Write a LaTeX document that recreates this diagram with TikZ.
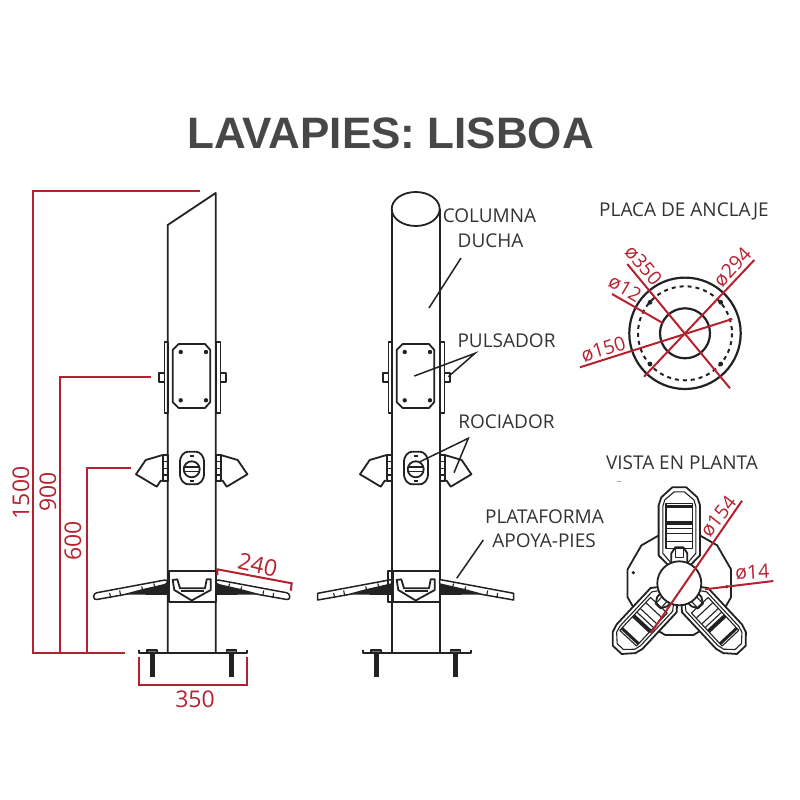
\documentclass[tikz,border=0pt]{standalone}
\usepackage{fontspec}
\setmainfont{Open Sans}
\newfontfamily\titlefont{Liberation Sans}
\definecolor{dimred}{HTML}{B5222F}
\definecolor{inkgray}{HTML}{333333}
\definecolor{partblack}{HTML}{222222}
\tikzset{
  part/.style={draw=partblack, line width=1.8pt, line join=round},
  thinpart/.style={draw=partblack, line width=1.1pt, line join=round},
  dimline/.style={draw=dimred, line width=2pt},
  leader/.style={draw=partblack, line width=1.5pt},
  dimtext/.style={text=dimred, inner sep=0pt, font=\fontsize{23}{25}\selectfont},
  smalldim/.style={text=dimred, inner sep=0pt, font=\fontsize{19.5}{21}\selectfont},
  labeltext/.style={text=inkgray, inner sep=0pt, font=\fontsize{19}{21}\selectfont}
}
\begin{document}
\begin{tikzpicture}[x=1pt,y=-1pt]
\useasboundingbox (0,0) rectangle (800,800);
\node (title) at (390.5,133) [inner sep=0pt, text=inkgray!90!white, font=\titlefont\bfseries\fontsize{44}{48}\selectfont] {LAVAPIES: LISBOA};
% column tops
\draw [part] (167.7,652.7) -- (167.7,225) -- (215.7,193) -- (215.7,652.7);
\draw [part] (391.7,652.7) -- (391.7,209);
\draw [part] (439.7,209) -- (439.7,652.7);
\draw [part] (415.7,209) ellipse [x radius=24, y radius=17];
% both elevations
\foreach \dx/\rc in {0/3pt,224/0pt} {
\begin{scope}[xshift=\dx pt]
  % side plates and knobs
  \draw [part] (164.5,341.7) rectangle (167.7,412.7);
  \draw [part] (215.7,341.7) rectangle (220.5,412.7);
  \draw [part] (159,372.7) rectangle (164.5,382);
  \draw [part] (220.5,372.7) rectangle (226,382);
  % push plate
  \draw [part] (178.7,344) -- (205,344) -- (210.3,350) -- (210.3,402) -- (205,408) -- (178.7,408) -- (172.7,402) -- (172.7,350) -- cycle;
  \foreach \px/\py in {180.7/352,206/352,180.7/400.3,206/400.3}
    \fill [partblack] (\px,\py) circle [radius=2.2];
  % sprinkler body
  \draw [part, rounded corners=3pt] (185,451.7) -- (199,451.7) -- (204,458) -- (204,478) -- (199,484.3) -- (185,484.3) -- (180,478) -- (180,458) -- cycle;
  \draw [part] (191.7,469.3) circle [radius=8];
  \draw [thinpart] (183.7,467) -- (199.7,467) (183.7,471.5) -- (199.7,471.5);
  \fill [partblack] (189.5,454.5) rectangle (194,457);
  \fill [partblack] (189.5,480) rectangle (194,482);
  % base flange and bolts
  \draw [part] (139,650) -- (139,652.7) -- (247.3,652.7) -- (247.3,650);
  \foreach \bx in {152,231.5} {
    \fill [partblack] (\bx-2.5,653) rectangle (\bx+2.5,677);
    \draw [thinpart, fill=partblack!60!white] (\bx-5,650) rectangle (\bx+5,652.7);
  }
  % bracket box of the foot rest
  \draw [part, fill=white] (169,571) rectangle (215.7,602.3);
  \draw [part] (172.7,580) -- (174.3,590) -- (191.7,600.5) -- (210.7,590) -- (210.7,579.3) -- (206.7,579.3) -- (205,588.3) -- (180,588.3) -- (177.3,579.3) -- cycle;
  \draw [thinpart] (181,591) -- (204,591);
  % mirrored nozzle and foot rest wing
  \foreach \sx in {1,-1} {
  \begin{scope}[xshift=191.7pt, xscale=\sx]
    \draw [part] (-29,455) -- (-46,460) -- (-55.7,474.3) -- (-35,486.7) -- (-31,480.7) -- (-24.4,481);
    \draw [part] (-29,455) rectangle (-24,481);
    \draw [thinpart] (-29,461.7) -- (-24,461.7) (-29,468.3) -- (-24,468.3) (-29,475) -- (-24,475);
    \fill [partblack] (-24,584) -- (-50,590) -- (-66.7,594.5) -- (-24,595) -- cycle;
    \draw [part, line width=1.5pt, fill=white, rounded corners=\rc] (-24,579.5) -- (-98,593.3) -- (-98,600) -- (-66.7,594.5) -- (-50,590) -- (-24,584) -- cycle;
    \draw [thinpart] (-82,593) -- (-81,598) (-72,590.5) -- (-71,596) (-50,586.5) -- (-49,590) (-38,583.5) -- (-37,586.5);
  \end{scope}
  }
\end{scope}
}
% inner edge of the second bracket
\draw [part] (388,571) rectangle (391.7,602.3);
% red dimensions of the left elevation
\coordinate (topA) at (200,191);
\coordinate (topB) at (33,191);
\coordinate (baseA) at (33,653);
\coordinate (baseB) at (125,653);
\coordinate (knobA) at (60,653);
\coordinate (knobB) at (60,377.3);
\coordinate (knobC) at (150.7,377.3);
\coordinate (nozA) at (86.7,653);
\coordinate (nozB) at (86.7,467.7);
\coordinate (nozC) at (130.7,467.7);
\draw [dimline] (topA) -- (topB) -- (baseA) -- (baseB);
\draw [dimline] (knobA) -- (knobB) -- (knobC);
\draw [dimline] (nozA) -- (nozB) -- (nozC);
\coordinate (wideA) at (139,656.7);
\coordinate (wideB) at (139,685.3);
\coordinate (wideC) at (247.3,685.3);
\coordinate (wideD) at (247.3,656.7);
\draw [dimline] (wideA) -- (wideB) -- (wideC) -- (wideD);
\coordinate (wingA) at (217.3,575);
\coordinate (wingB) at (217.3,569.3);
\coordinate (wingC) at (291.7,583.3);
\coordinate (wingD) at (290.7,590.7);
\draw [dimline] (wingA) -- (wingB) -- (wingC) -- (wingD);
\node (h1500) at (21,493) [dimtext, rotate=90] {1500};
\node (h900) at (48,492) [dimtext, rotate=90] {900};
\node (h600) at (73,541) [dimtext, rotate=90] {600};
\node (w350) at (195,699) [dimtext] {350};
\node (w240) at (257.7,565) [dimtext, rotate=-13] {240};
% labels and leaders of the right elevation
\node (columna) at (489.5,215.5) [labeltext] {COLUMNA};
\node (ducha) at (490.5,241) [labeltext] {DUCHA};
\node (pulsador) at (506.5,341) [labeltext] {PULSADOR};
\node (rociador) at (506.5,422) [labeltext] {ROCIADOR};
\node (plataforma) at (544.5,517) [labeltext] {PLATAFORMA};
\node (apoya) at (544,541) [labeltext] {APOYA-PIES};
\coordinate (colHub) at (461,258);
\coordinate (colEnd) at (429,308);
\coordinate (pulsHub) at (475,353.3);
\coordinate (pulsPlate) at (414.3,376);
\coordinate (pulsKnob) at (448.3,376.7);
\coordinate (rocHub) at (468.3,438.3);
\coordinate (rocBody) at (420,461.7);
\coordinate (rocNoz) at (454,472.7);
\coordinate (platHub) at (483.3,540);
\coordinate (platWing) at (456.7,578.3);
\draw [leader] (colHub) -- (colEnd);
\draw [leader] (pulsPlate) -- (pulsHub) -- (pulsKnob);
\draw [leader] (rocBody) -- (rocHub) -- (rocNoz);
\draw [leader] (platHub) -- (platWing);
% anchor plate
\node (placa) at (684,211) [labeltext] {PLACA DE ANCLAJE};
\coordinate (plateC) at (685,333.3);
\draw [part, line width=2.2pt] (plateC) circle [radius=55.7];
\draw [part, line width=2.2pt] (plateC) circle [radius=25];
\draw [part, line width=2pt, dash pattern=on 4pt off 4pt] (plateC) circle [radius=47];
\foreach \hx/\hy in {650/302.3,720.7/302.3,650/364,720.7/364}
  \fill [partblack] (\hx,\hy) circle [radius=2.4];
\coordinate (d350a) at (627.3,264);
\coordinate (d350b) at (730,388.3);
\coordinate (d294a) at (754.3,260);
\coordinate (d294b) at (644,376.7);
\coordinate (d12a) at (612,294);
\coordinate (d12b) at (663.3,323.3);
\coordinate (d150a) at (580,367.3);
\coordinate (d150b) at (732.3,319);
\draw [dimline] (d350a) -- (d350b);
\draw [dimline] (d294a) -- (d294b);
\draw [dimline] (d12a) -- (d12b);
\draw [dimline] (d150a) -- (d150b);
\node (t350) at (643.3,265) [smalldim, rotate=-50] {ø350};
\node (t294) at (732.3,267.3) [smalldim, rotate=47] {ø294};
\node (t12) at (625,288.3) [smalldim, rotate=-30] {ø12};
\node (t150) at (603.3,349) [smalldim, rotate=17] {ø150};
% plan view
\node (vista) at (682,463) [labeltext] {VISTA EN PLANTA};
\draw [gray!70, line width=0.6pt] (616.5,481.7) -- (621,481.7);
\coordinate (hub) at (679.3,583.3);
\draw [part] plot [domain=0:360, samples=13] ({679.3+53.6*cos(\x+15)},{583.3+53.6*sin(\x+15)});
\fill [partblack] (633.3,572.7) circle [radius=1.8];
\fill [partblack] (726.7,586.7) circle [radius=1.8];
\foreach \ang/\lift/\wf in {0/0pt/1,137/-5pt/0.86,-137/-5pt/0.86} {
\begin{scope}[shift={(hub)}, rotate=\ang, yshift=\lift, xscale=\wf]
  \draw [part, fill=white] (-7,-96) -- (7,-96) -- (18,-86) -- (20.7,-78) -- (20.7,-28) -- (10,-17) -- (-10,-17) -- (-20.7,-28) -- (-20.7,-78) -- (-18,-86) -- cycle;
  \draw [thinpart] (-5,-91.5) -- (5,-91.5) -- (14.5,-83.5) -- (16.5,-77) -- (16.5,-30) -- (8,-20) -- (-8,-20) -- (-16.5,-30) -- (-16.5,-77) -- (-14.5,-83.5) -- cycle;
  \draw [thinpart] (-13.3,-80) rectangle (13.3,-35);
  \fill [partblack] (-13.3,-78.5) rectangle (13.3,-75.5);
  \fill [partblack] (-13.3,-62) rectangle (13.3,-58);
  \draw [thinpart] (-13.3,-55) -- (13.3,-55) (-13.3,-50) -- (13.3,-50) (-13.3,-42) -- (13.3,-42);
  \draw [part] (-8,-20) -- (-8,-30) -- (-4,-36) -- (4,-36) -- (8,-30) -- (8,-20);
  \draw [thinpart] (-4,-36) -- (-4,-26) -- (4,-26) -- (4,-36);
\end{scope}
}
\draw [part, fill=white] (hub) circle [radius=22];
\coordinate (d154a) at (742,500.7);
\coordinate (d154b) at (650.7,633.3);
\coordinate (d14a) at (773.3,581);
\coordinate (d14b) at (705,589.3);
\draw [dimline] (d154a) -- (d154b);
\draw [dimline] (d14a) -- (d14b);
\node (t154) at (718.3,516.7) [smalldim, rotate=52] {ø154};
\node (t14) at (752.3,572.3) [smalldim, rotate=3] {ø14};
\end{tikzpicture}
\end{document}
